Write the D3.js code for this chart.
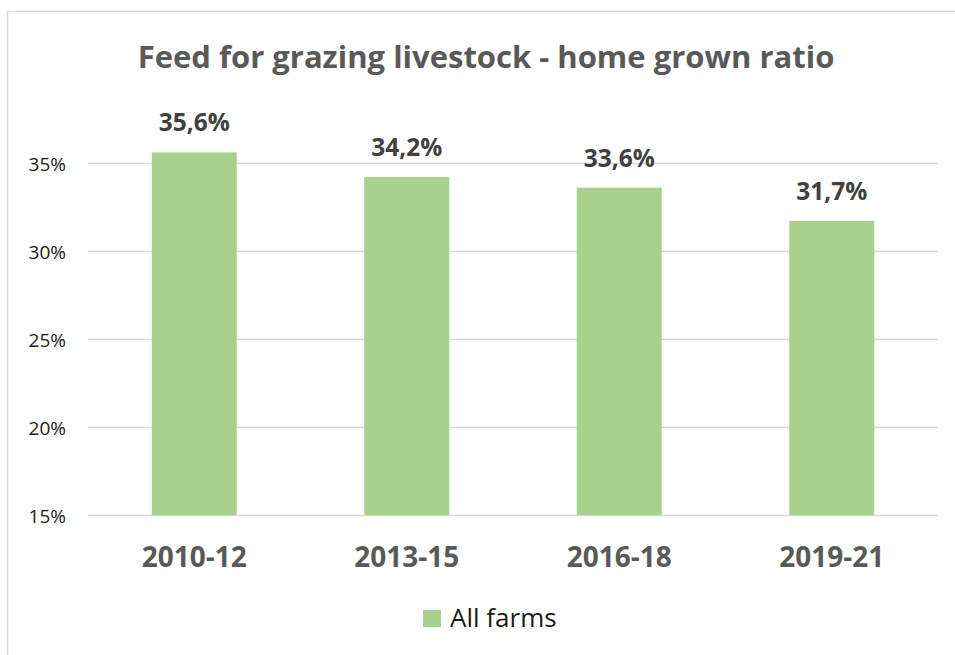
<!DOCTYPE html>
<html>
<head>
<meta charset="utf-8">
<script src="https://cdn.jsdelivr.net/npm/d3@7"></script>
<style>
  html, body { margin: 0; padding: 0; background: #fff; }
  svg { display: block; }
</style>
</head>
<body>
<script>
// Home grown share of feed for grazing livestock, by three-year period
const categories = ["2010-12", "2013-15", "2016-18", "2019-21"];
const values = [35.6, 34.2, 33.6, 31.7];
const yTicks = [15, 20, 25, 30, 35];
const seriesName = "All farms";
const titleText = "Feed for grazing livestock - home grown ratio";

const W = 955, H = 655;
const font = "'Open Sans', 'Noto Sans', sans-serif";

const svg = d3.select("body").append("svg")
  .attr("width", W).attr("height", H);

// chart frame
svg.append("rect")
  .attr("x", 7.5).attr("y", 11.5)
  .attr("width", 1000).attr("height", 700)
  .attr("fill", "#fff").attr("stroke", "#d9d9d9").attr("stroke-width", 1.5);

const plot = { left: 88, right: 938 };

const x = d3.scaleBand()
  .domain(categories)
  .range([plot.left, plot.right])
  .paddingInner(0.6).paddingOuter(0.3);

const y = d3.scaleLinear()
  .domain([15, 35])
  .range([515, 163]);

// gridlines
svg.append("g")
  .selectAll("line").data(yTicks).join("line")
  .attr("x1", plot.left).attr("x2", plot.right)
  .attr("y1", d => Math.round(y(d)) + 0.5).attr("y2", d => Math.round(y(d)) + 0.5)
  .attr("stroke", "#d9d9d9").attr("stroke-width", 1.5);

// y-axis labels
const yAxis = d3.axisLeft(y).tickValues(yTicks).tickSize(0).tickPadding(0)
  .tickFormat(d => d + "%");
svg.append("g")
  .attr("transform", `translate(66,1)`)
  .call(yAxis)
  .call(g => g.select(".domain").remove())
  .selectAll("text")
  .attr("font-family", font).attr("font-size", 19).attr("fill", "#1a1a1a")
  .attr("dy", "0.35em");

// bars
svg.append("g")
  .selectAll("rect").data(values).join("rect")
  .attr("x", (d, i) => x(categories[i]))
  .attr("width", x.bandwidth())
  .attr("y", d => y(d))
  .attr("height", d => y(15) - y(d))
  .attr("fill", "#a9d18e");

// value labels
svg.append("g")
  .selectAll("text").data(values).join("text")
  .attr("x", (d, i) => x(categories[i]) + x.bandwidth() / 2)
  .attr("y", d => y(d) - 21)
  .attr("text-anchor", "middle")
  .attr("font-family", font).attr("font-size", 24.5).attr("font-weight", 700)
  .attr("fill", "#404040")
  .text(d => d3.format(".1f")(d).replace(".", ",") + "%");

// x-axis labels
const xAxis = d3.axisBottom(x).tickSize(0).tickPadding(0);
svg.append("g")
  .attr("transform", `translate(0,${y(15)})`)
  .call(xAxis)
  .call(g => g.select(".domain").remove())
  .selectAll("text")
  .attr("font-family", font).attr("font-size", 28).attr("font-weight", 700)
  .attr("fill", "#595959")
  .attr("y", 52).attr("dy", 0);

// title
svg.append("text")
  .attr("x", 486).attr("y", 68)
  .attr("text-anchor", "middle")
  .attr("font-family", font).attr("font-size", 31).attr("font-weight", 700)
  .attr("fill", "#595959")
  .text(titleText);

// legend
const legend = svg.append("g").attr("transform", "translate(423,610)");
legend.append("rect").attr("width", 18).attr("height", 17).attr("fill", "#a9d18e");
legend.append("text")
  .attr("x", 27).attr("y", 17)
  .attr("font-family", font).attr("font-size", 26).attr("fill", "#1a1a1a")
  .text(seriesName);
</script>
</body>
</html>
